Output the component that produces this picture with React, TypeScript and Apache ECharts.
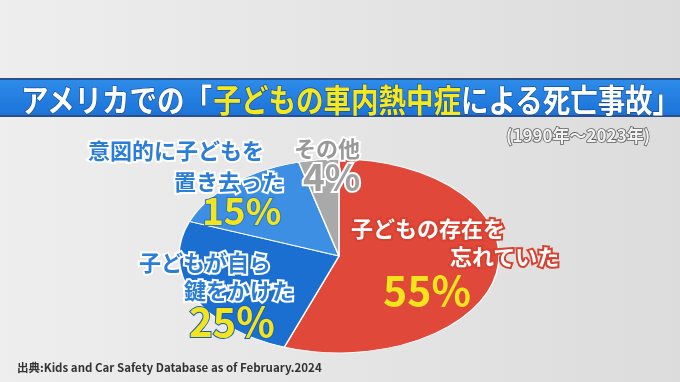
import React, { useEffect, useRef } from "react";
import * as echarts from "echarts";

// ---- data ----
const categoryLines: string[][] = [
  ["子どもの存在を", "忘れていた"],
  ["子どもが自ら", "鍵をかけた"],
  ["意図的に子どもを", "置き去った"],
  ["その他"],
];
const values: number[] = [55, 25, 15, 4];
const titleParts: string[] = ["アメリカでの「", "子どもの車内熱中症", "による死亡事故」"];
const periodText = "(1990年〜2023年)";
const sourceText = "出典:Kids and Car Safety Database as of February.2024";

// ---- styles / layout ----
const sliceColors = ["#E0483A", "#1B6FD0", "#3D8FE3", "#A9A9A9"];
const CX = 339;
const CY = 256;
const RX = 160;
const RY = 97;
const FONT = "'Noto Sans CJK JP', 'Noto Sans', sans-serif";

type LabelLayout = {
  lines: { x: number; y: number }[];
  pct: { x: number; y: number; size: number };
  fill: string;
  border: string;
  pctBorder: string;
  pctFill: string;
};
const labelLayouts: LabelLayout[] = [
  {
    lines: [
      { x: 351, y: 227 },
      { x: 450, y: 255 },
    ],
    pct: { x: 383, y: 288, size: 41 },
    fill: "#ffffff",
    border: "#D8402F",
    pctFill: "#F4E41C",
    pctBorder: "rgba(0,0,0,0)",
  },
  {
    lines: [
      { x: 139, y: 261 },
      { x: 184, y: 289 },
    ],
    pct: { x: 189, y: 320, size: 40 },
    fill: "#2A7ED8",
    border: "#ffffff",
    pctFill: "#F4E41C",
    pctBorder: "#1A5FB4",
  },
  {
    lines: [
      { x: 88, y: 149 },
      { x: 174, y: 180 },
    ],
    pct: { x: 202, y: 209, size: 37 },
    fill: "#2A7ED8",
    border: "#ffffff",
    pctFill: "#F4E41C",
    pctBorder: "#2A76C8",
  },
  {
    lines: [{ x: 294, y: 147 }],
    pct: { x: 303, y: 175, size: 37 },
    fill: "#999999",
    border: "#ffffff",
    pctFill: "#A0A0A0",
    pctBorder: "#ffffff",
  },
];

export default function App() {
  const ref = useRef<HTMLDivElement>(null);

  useEffect(() => {
    if (!ref.current) return;
    const chart = echarts.init(ref.current, undefined, { renderer: "svg" });

    const total = values.reduce((a, b) => a + b, 0);
    const starts: number[] = [];
    let acc = 0;
    values.forEach((v) => {
      starts.push(acc);
      acc += v;
    });

    const labelElements: any[] = [];
    labelLayouts.forEach((lay, i) => {
      categoryLines[i].forEach((line, j) => {
        const p = lay.lines[j];
        labelElements.push({
          type: "text",
          x: p.x,
          y: p.y,
          z: 100,
          style: {
            text: line,
            fill: lay.fill,
            stroke: lay.border,
            lineWidth: 4,
            fontSize: 22,
            fontWeight: "bold",
            fontFamily: FONT,
            textAlign: "left",
            textVerticalAlign: "middle",
          },
        });
      });
      labelElements.push({
        type: "text",
        x: lay.pct.x,
        y: lay.pct.y,
        z: 100,
        style: {
          text: values[i] + "%",
          fill: lay.pctFill,
          stroke: lay.pctBorder,
          lineWidth: i === 3 ? 4 : 2,
          fontSize: lay.pct.size,
          fontWeight: "bold",
          fontFamily: FONT,
          textAlign: "left",
          textVerticalAlign: "middle",
        },
      });
    });

    // title split into three plain text pieces laid end to end
    const titleSize = 27.5;
    const titleColors = ["#ffffff", "#F6E81E", "#ffffff"];
    const titleX = [21, 0, 0];
    const titleElements: any[] = [];
    let tx = titleX[0];
    titleParts.forEach((part, k) => {
      const w = echarts.format.getTextRect
        ? (echarts.format as any).getTextRect(part, `bold ${titleSize}px ${FONT}`).width
        : part.length * titleSize;
      titleElements.push({
        type: "text",
        x: tx,
        y: 98.5,
        z: 3,
        scaleY: 1.15,
        style: {
          text: part,
          fill: titleColors[k],
          stroke: "#1A4F95",
          lineWidth: 1.2,
          fontSize: titleSize,
          fontWeight: "bold",
          fontFamily: FONT,
          textAlign: "left",
          textVerticalAlign: "middle",
        },
      });
      tx += w;
    });

    const option: any = {
      animation: false,
      graphic: [
        {
          type: "rect",
          z: 0,
          shape: { x: 0, y: 0, width: 680, height: 382 },
          style: {
            fill: new echarts.graphic.LinearGradient(0, 0, 1, 0, [
              { offset: 0, color: "#EEEEEE" },
              { offset: 1, color: "#DCDCDC" },
            ]),
          },
        },
        {
          type: "rect",
          z: 1,
          shape: { x: 0, y: 78, width: 680, height: 39 },
          style: {
            fill: new echarts.graphic.LinearGradient(0, 0, 0, 1, [
              { offset: 0, color: "#2F8DEA" },
              { offset: 1, color: "#1A72D8" },
            ]),
          },
        },
        {
          type: "rect",
          z: 2,
          shape: { x: 0, y: 78, width: 680, height: 2 },
          style: { fill: "#2B4F86" },
        },
        {
          type: "rect",
          z: 2,
          shape: { x: 0, y: 115, width: 680, height: 2 },
          style: { fill: "#2B4F86" },
        },
        ...titleElements,
        {
          type: "text",
          x: 506,
          y: 134,
          z: 3,
          style: {
            text: periodText,
            fill: "#F2F2F2",
            stroke: "#5E5E5E",
            lineWidth: 1.6,
            fontSize: 17,
            fontWeight: "bold",
            fontFamily: FONT,
            textAlign: "left",
            textVerticalAlign: "middle",
          },
        },
        {
          type: "text",
          x: 17,
          y: 367,
          z: 3,
          style: {
            text: sourceText,
            fill: "#333333",
            fontSize: 11.5,
            fontWeight: "bold",
            fontFamily: FONT,
            textAlign: "left",
            textVerticalAlign: "middle",
          },
        },
        ...labelElements,
      ],
      series: [
        {
          type: "custom",
          coordinateSystem: "none",
          z: 10,
          data: values.map((v) => [v]),
          renderItem: (params: any, api: any) => {
            const i = params.dataIndex;
            const v = api.value(0) as number;
            const a0 = -Math.PI / 2 + (2 * Math.PI * starts[i]) / total;
            const a1 = a0 + (2 * Math.PI * v) / total;
            return {
              type: "sector",
              x: CX,
              y: CY,
              scaleY: RY / RX,
              shape: { cx: 0, cy: 0, r: RX, r0: 0, startAngle: a0, endAngle: a1, clockwise: true },
              style: {
                fill: sliceColors[i],
                stroke: "#ffffff",
                lineWidth: 1.5,
                strokeNoScale: true,
              },
            };
          },
        },
      ],
    };
    chart.setOption(option);
    return () => chart.dispose();
  }, []);

  return (
    <div
      ref={ref}
      style={{ position: "fixed", left: 0, top: 0, width: 680, height: 382 }}
    />
  );
}
